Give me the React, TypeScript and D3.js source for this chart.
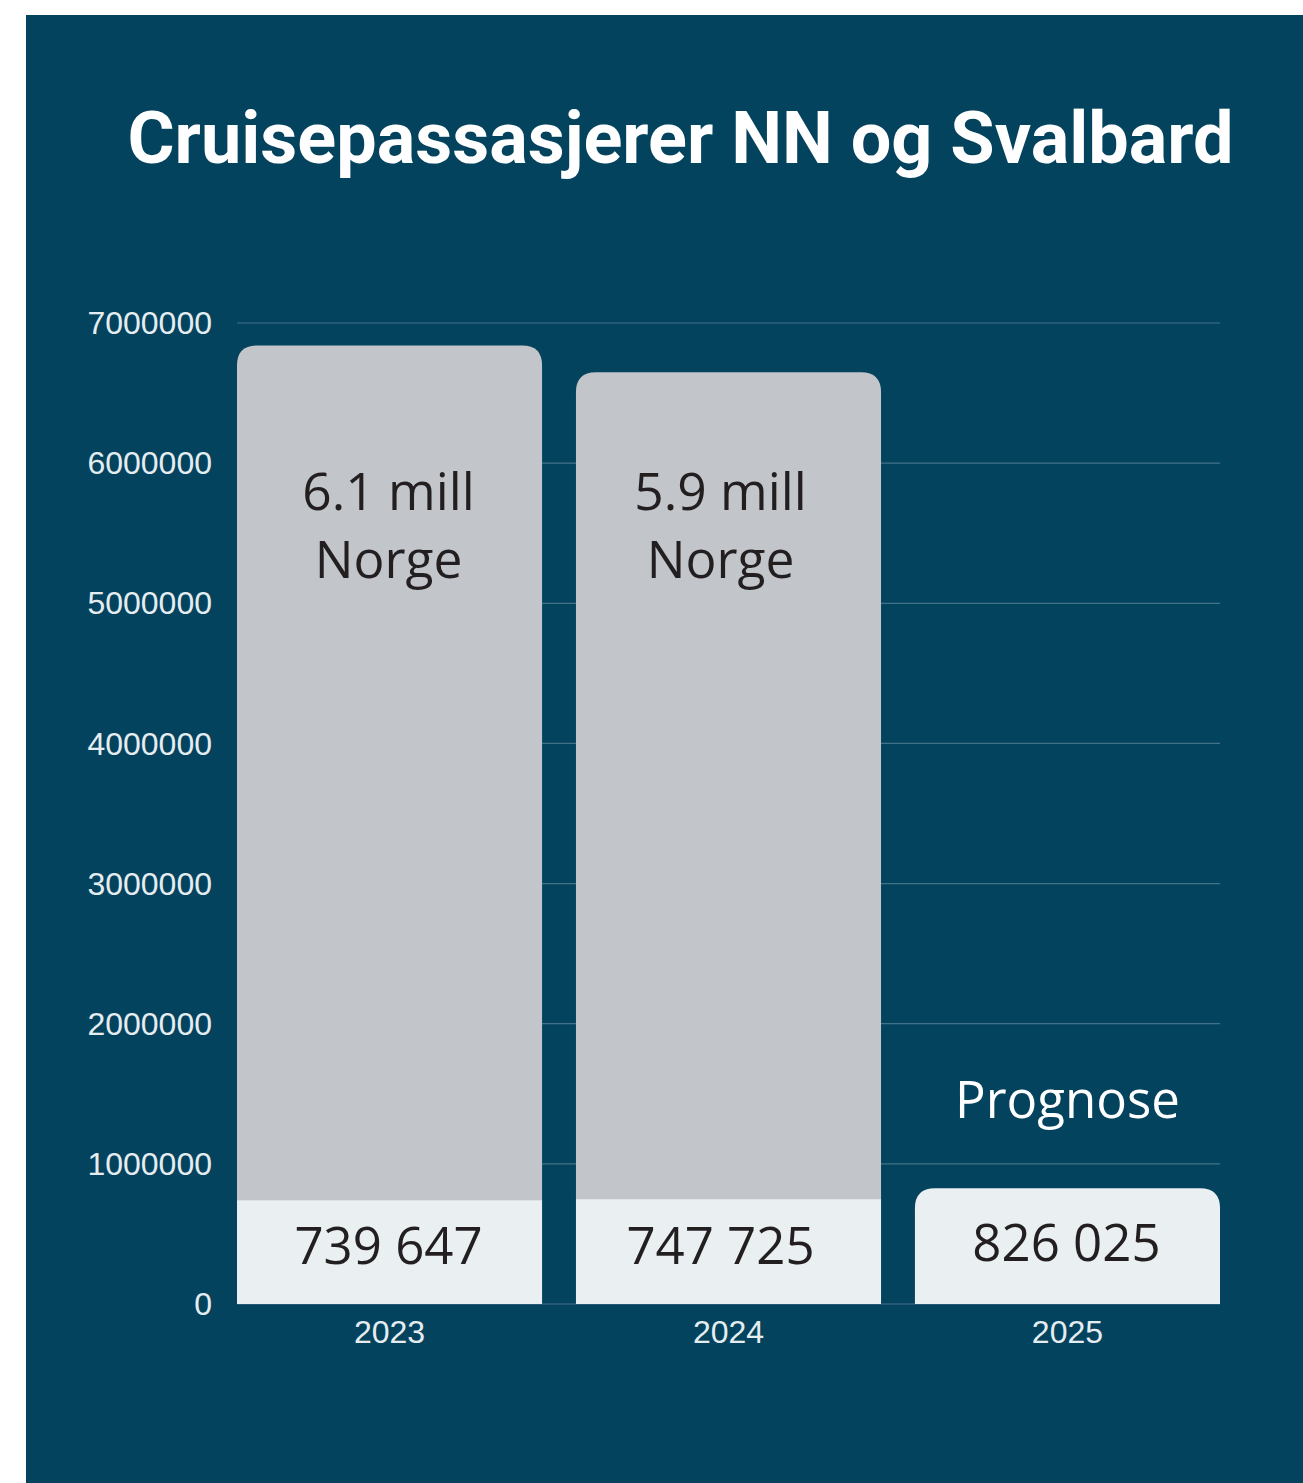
import React from 'react';
import * as d3 from 'd3';

const years = ['2023', '2024', '2025'];
const svalbard = [739647, 747725, 826025];
const norge: (number | null)[] = [6100000, 5900000, null];
const yTicks = [0, 1000000, 2000000, 3000000, 4000000, 5000000, 6000000, 7000000];
const title = 'Cruisepassasjerer NN og Svalbard';
const forecastLabel = 'Prognose';
const norgeLabel = 'Norge';

const W = 1303;
const H = 1483;
const BG = '#04435E';
const GRID = '#44718A';
const GRAY = '#C2C5CA';
const LIGHT = '#EAF0F2';
const INK = '#231F20';
const TICK = '#E6EDF1';

function topRounded(x: number, y: number, w: number, h: number, r: number) {
  const rr = Math.min(r, h, w / 2);
  return `M${x},${y + h}V${y + rr}Q${x},${y} ${x + rr},${y}H${x + w - rr}Q${x + w},${y} ${x + w},${y + rr}V${y + h}Z`;
}

const fmtSpace = (v: number) => d3.format(',')(v).replace(/,/g, ' ');

export default function App() {
  const x = d3.scaleBand<string>().domain(years).range([237, 1220]).paddingInner(0.1).paddingOuter(0);
  const y = d3.scaleLinear().domain([0, 7000000]).range([1304, 323]);
  const bw = x.bandwidth();
  const R = 20;
  const barFont = "'Open Sans', sans-serif";
  const tickFont = "'Liberation Sans', Arial, sans-serif";
  const labelShift = (i: number) => (i === 1 ? -8 : -1);

  return (
    <svg width={W} height={H} style={{ position: 'absolute', left: 0, top: 0 }}>
      <rect x={0} y={0} width={W} height={H} fill="#ffffff" />
      <rect x={26} y={15} width={W - 26} height={H - 15} fill={BG} />
      <text x={680.5} y={163} textAnchor="middle" fill="#ffffff" fontFamily="Roboto, sans-serif" fontWeight={700} fontSize={72}>
        {title}
      </text>
      {yTicks.map((t) => (
        <g key={t}>
          <line x1={237} x2={1220} y1={y(t)} y2={y(t)} stroke={GRID} strokeWidth={1.2} />
          <text x={212} y={y(t)} dy="0.35em" textAnchor="end" fill={TICK} fontFamily={tickFont} fontSize={32}>
            {String(t)}
          </text>
        </g>
      ))}
      {years.map((yr, i) => {
        const x0 = x(yr)!;
        const s = svalbard[i];
        const n = norge[i];
        const cx = x0 + bw / 2 + labelShift(i);
        const sy = y(s);
        const els: React.ReactNode[] = [];
        if (n != null) {
          const ty = y(s + n);
          els.push(<path key="n" d={topRounded(x0, ty, bw, sy - ty + 1, R)} fill={GRAY} />);
          els.push(<rect key="s" x={x0} y={sy} width={bw} height={y(0) - sy} fill={LIGHT} />);
          els.push(
            <text key="nl1" x={cx} y={510} textAnchor="middle" fill={INK} fontFamily={barFont} fontSize={51.5}>
              {`${(n / 1e6).toFixed(1)} mill`}
            </text>
          );
          els.push(
            <text key="nl2" x={cx} y={578} textAnchor="middle" fill={INK} fontFamily={barFont} fontSize={51.5}>
              {norgeLabel}
            </text>
          );
        } else {
          els.push(<path key="s" d={topRounded(x0, sy, bw, y(0) - sy, R)} fill={LIGHT} />);
          els.push(
            <text key="pg" x={x0 + bw / 2} y={1118} textAnchor="middle" fill="#ffffff" fontFamily={barFont} fontSize={51}>
              {forecastLabel}
            </text>
          );
        }
        els.push(
          <text key="sl" x={cx} y={(sy + y(0)) / 2 + (n != null ? 12 : 15)} textAnchor="middle" fill={INK} fontFamily={barFont} fontSize={51}>
            {fmtSpace(s)}
          </text>
        );
        els.push(
          <text key="yl" x={x0 + bw / 2} y={1343} textAnchor="middle" fill={TICK} fontFamily={tickFont} fontSize={32}>
            {yr}
          </text>
        );
        return <g key={yr}>{els}</g>;
      })}
    </svg>
  );
}
